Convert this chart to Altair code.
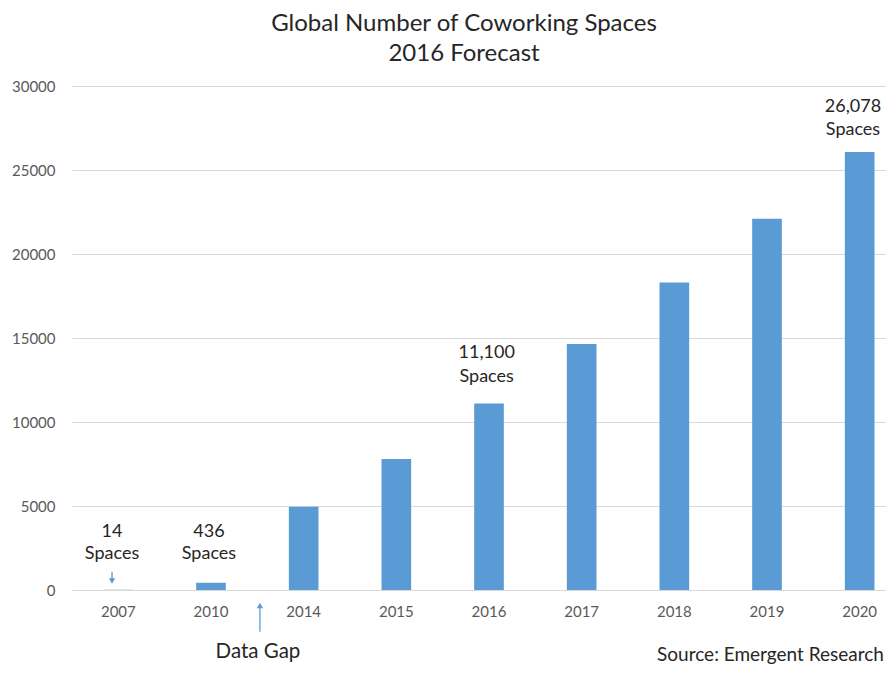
import altair as alt
import pandas as pd

# ---- data ----
years = ["2007", "2010", "2014", "2015", "2016", "2017", "2018", "2019", "2020"]
spaces = [14, 436, 4960, 7800, 11100, 14650, 18300, 22100, 26078]
y_ticks = [0, 5000, 10000, 15000, 20000, 25000, 30000]
title_lines = ["Global Number of Coworking Spaces", "2016 Forecast"]

# annotation labels (x in category-step units from the plot's left edge, y in data units)
note_text = ["14", "Spaces", "436", "Spaces", "11,100", "Spaces", "26,078", "Spaces"]
note_x = [0.432, 0.432, 1.478, 1.478, 4.475, 4.475, 8.428, 8.428]
note_y = [3155, 1845, 3155, 1845, 13810, 12381, 28452, 27054]

gap_text = ["Data Gap"]
gap_x = [2.007]
gap_y = [-4048]

source_text = ["Source: Emergent Research"]
source_x = [8.762]
source_y = [-4226]

arrow_x = [0.432, 2.028]
arrow_from = [1090, -2482]
arrow_to = [520, -940]
head_x = [0.432, 2.028]
head_y = [536, -923]
head_shape = ["triangle-down", "triangle-up"]

FONT = "Lato"
BLUE = "#5B9BD5"
W = 814          # visible plot width (page is cropped on the right, as in the source)
FULL = 834       # full width of the nine category slots

df = pd.DataFrame({"year": years, "spaces": spaces})
notes_df = pd.DataFrame({"x": note_x, "y": note_y, "t": note_text})
gap_df = pd.DataFrame({"x": gap_x, "y": gap_y, "t": gap_text})
src_df = pd.DataFrame({"x": source_x, "y": source_y, "t": source_text})
arrow_df = pd.DataFrame({"x": arrow_x, "y": arrow_from, "y2": arrow_to})
head_df = pd.DataFrame({"x": head_x, "y": head_y, "shape": head_shape})

yscale = alt.Scale(domain=[0, 30000], nice=False)
xq = alt.Scale(domain=[0, 9], range=[0, FULL], nice=False, zero=False)

bars = alt.Chart(df).mark_bar(color=BLUE).encode(
    x=alt.X("year:N", sort=years,
            scale=alt.Scale(paddingInner=0.68, paddingOuter=0.34, range=[0, FULL]),
            axis=alt.Axis(title=None, labelAngle=0, ticks=False, domain=False,
                          labelFont=FONT, labelFontSize=15, labelColor="#595959",
                          labelPadding=14)),
    y=alt.Y("spaces:Q", scale=yscale,
            axis=alt.Axis(values=y_ticks, format="d", title=None, ticks=False,
                          domain=False, grid=True, gridColor="#d9d9d9", labelFont=FONT,
                          labelFontSize=15, labelColor="#595959", labelPadding=17)),
)

notes = alt.Chart(notes_df).mark_text(font=FONT, fontSize=18, color="#262626",
                                       baseline="alphabetic").encode(
    x=alt.X("x:Q", scale=xq, axis=None),
    y=alt.Y("y:Q", scale=yscale, title=None),
    text="t:N",
)

gap = alt.Chart(gap_df).mark_text(font=FONT, fontSize=20.5, color="#262626",
                                   baseline="alphabetic").encode(
    x=alt.X("x:Q", scale=xq, axis=None),
    y=alt.Y("y:Q", scale=yscale, title=None),
    text="t:N",
)

source = alt.Chart(src_df).mark_text(font=FONT, fontSize=19, color="#262626",
                                      baseline="alphabetic", align="right").encode(
    x=alt.X("x:Q", scale=xq, axis=None),
    y=alt.Y("y:Q", scale=yscale, title=None),
    text="t:N",
)

shafts = alt.Chart(arrow_df).mark_rule(color=BLUE, strokeWidth=1.3).encode(
    x=alt.X("x:Q", scale=xq, axis=None),
    y=alt.Y("y:Q", scale=yscale, title=None),
    y2="y2:Q",
)

heads = alt.Chart(head_df).mark_point(filled=True, color=BLUE, size=40, opacity=1).encode(
    x=alt.X("x:Q", scale=xq, axis=None),
    y=alt.Y("y:Q", scale=yscale, title=None),
    shape=alt.Shape("shape:N", scale=None, legend=None),
)

chart = alt.layer(bars, notes, gap, source, shafts, heads).resolve_scale(
    x="independent"
).properties(
    width=W,
    height=504,
    autosize=alt.AutoSizeParams(type="none"),
    padding={"left": 64, "top": 78, "right": 0, "bottom": 76},
    title=alt.TitleParams(text=title_lines, font=FONT, fontSize=24, fontWeight="normal",
                          color="#262626", anchor="middle", dx=-15, offset=13,
                          lineHeight=30),
).configure_view(stroke=None)

chart.save("out.html", embed_options={"renderer": "svg", "actions": False})
